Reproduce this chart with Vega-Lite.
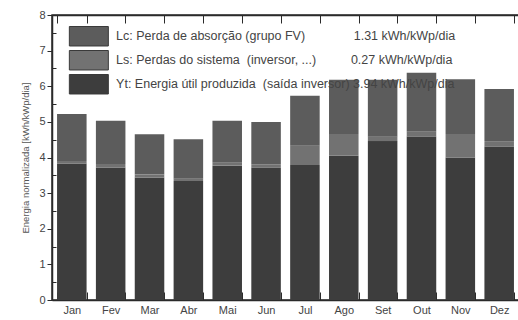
{
  "$schema": "https://vega.github.io/schema/vega-lite/v6.json",
  "width": 467,
  "height": 285,
  "autosize": "none",
  "padding": {"left": 52, "top": 15, "right": 0, "bottom": 20},
  "background": "white",
  "config": {
    "view": {"stroke": "#2a2a2a", "strokeWidth": 1.5},
    "font": "Liberation Sans",
    "axis": {"grid": false, "domainColor": "#2a2a2a", "domainWidth": 1.5, "tickColor": "#2a2a2a", "labelColor": "#444", "titleColor": "#555", "labelFont": "Liberation Sans", "titleFont": "Liberation Sans"}
  },
  "data": {
    "values": [
      {"mes": "Jan", "serie": "Yt", "ordem": 1, "valor": 3.83},
      {"mes": "Jan", "serie": "Ls", "ordem": 2, "valor": 0.07},
      {"mes": "Jan", "serie": "Lc", "ordem": 3, "valor": 1.32},
      {"mes": "Fev", "serie": "Yt", "ordem": 1, "valor": 3.72},
      {"mes": "Fev", "serie": "Ls", "ordem": 2, "valor": 0.10},
      {"mes": "Fev", "serie": "Lc", "ordem": 3, "valor": 1.21},
      {"mes": "Mar", "serie": "Yt", "ordem": 1, "valor": 3.44},
      {"mes": "Mar", "serie": "Ls", "ordem": 2, "valor": 0.08},
      {"mes": "Mar", "serie": "Lc", "ordem": 3, "valor": 1.13},
      {"mes": "Abr", "serie": "Yt", "ordem": 1, "valor": 3.34},
      {"mes": "Abr", "serie": "Ls", "ordem": 2, "valor": 0.08},
      {"mes": "Abr", "serie": "Lc", "ordem": 3, "valor": 1.09},
      {"mes": "Mai", "serie": "Yt", "ordem": 1, "valor": 3.77},
      {"mes": "Mai", "serie": "Ls", "ordem": 2, "valor": 0.08},
      {"mes": "Mai", "serie": "Lc", "ordem": 3, "valor": 1.18},
      {"mes": "Jun", "serie": "Yt", "ordem": 1, "valor": 3.71},
      {"mes": "Jun", "serie": "Ls", "ordem": 2, "valor": 0.10},
      {"mes": "Jun", "serie": "Lc", "ordem": 3, "valor": 1.19},
      {"mes": "Jul", "serie": "Yt", "ordem": 1, "valor": 3.79},
      {"mes": "Jul", "serie": "Ls", "ordem": 2, "valor": 0.54},
      {"mes": "Jul", "serie": "Lc", "ordem": 3, "valor": 1.40},
      {"mes": "Ago", "serie": "Yt", "ordem": 1, "valor": 4.05},
      {"mes": "Ago", "serie": "Ls", "ordem": 2, "valor": 0.61},
      {"mes": "Ago", "serie": "Lc", "ordem": 3, "valor": 1.52},
      {"mes": "Set", "serie": "Yt", "ordem": 1, "valor": 4.46},
      {"mes": "Set", "serie": "Ls", "ordem": 2, "valor": 0.14},
      {"mes": "Set", "serie": "Lc", "ordem": 3, "valor": 1.58},
      {"mes": "Out", "serie": "Yt", "ordem": 1, "valor": 4.58},
      {"mes": "Out", "serie": "Ls", "ordem": 2, "valor": 0.14},
      {"mes": "Out", "serie": "Lc", "ordem": 3, "valor": 1.66},
      {"mes": "Nov", "serie": "Yt", "ordem": 1, "valor": 4.00},
      {"mes": "Nov", "serie": "Ls", "ordem": 2, "valor": 0.66},
      {"mes": "Nov", "serie": "Lc", "ordem": 3, "valor": 1.54},
      {"mes": "Dez", "serie": "Yt", "ordem": 1, "valor": 4.30},
      {"mes": "Dez", "serie": "Ls", "ordem": 2, "valor": 0.16},
      {"mes": "Dez", "serie": "Lc", "ordem": 3, "valor": 1.46}
    ]
  },
  "layer": [
    {
      "mark": {"type": "bar"},
      "encoding": {
        "x": {
          "field": "mes", "type": "nominal",
          "sort": ["Jan", "Fev", "Mar", "Abr", "Mai", "Jun", "Jul", "Ago", "Set", "Out", "Nov", "Dez"],
          "scale": {"paddingInner": 0.24, "paddingOuter": 0.13},
          "axis": {"orient": "bottom", "title": null, "labelAngle": 0, "labelFontSize": 11, "labelPadding": 12, "tickBand": "extent", "tickSize": -8, "tickWidth": 1}
        },
        "y": {
          "field": "valor", "type": "quantitative", "stack": "zero",
          "scale": {"domain": [0, 8], "nice": false},
          "axis": {
            "title": "Energia normalizada [kWh/kWp/dia]", "titleFontSize": 9.5, "titleFontWeight": "normal", "titlePadding": 8, "titleColor": "#555",
            "values": [0, 0.5, 1, 1.5, 2, 2.5, 3, 3.5, 4, 4.5, 5, 5.5, 6, 6.5, 7, 7.5, 8],
            "labelExpr": "datum.value % 1 === 0 ? format(datum.value, 'd') : ''",
            "labelFontSize": 11, "labelPadding": 2,
            "tickSize": {"condition": {"test": "datum.value % 1 === 0", "value": 5}, "value": -4}
          }
        },
        "color": {
          "field": "serie", "type": "nominal",
          "scale": {"domain": ["Lc", "Ls", "Yt"], "range": ["#5c5c5c", "#727272", "#3d3d3d"]},
          "legend": {
            "orient": "none", "legendX": 30.6, "legendY": 15, "title": null,
            "symbolType": "M-4,-2H4V2H-4Z", "symbolSize": 95, "symbolStrokeWidth": 1, "symbolStrokeColor": "#3a3a3a",
            "symbolOpacity": 1,
            "rowPadding": 0, "labelFontSize": 12.5, "labelColor": "#444", "labelOffset": 21, "labelLimit": 0,
            "labelExpr": "datum.label == 'Lc' ? 'Lc: Perda de absorção (grupo FV)\u00a0\u00a0\u00a0\u00a0\u00a0\u00a0\u00a0\u00a0\u00a0\u00a0\u00a0\u00a0\u00a0\u00a01.31 kWh/kWp/dia' : datum.label == 'Ls' ? 'Ls: Perdas do sistema\u00a0\u00a0(inversor, ...)\u00a0\u00a0\u00a0\u00a0\u00a0\u00a0\u00a0\u00a0\u00a0\u00a00.27 kWh/kWp/dia' : 'Yt: Energia útil produzida\u00a0\u00a0(saída inversor)\u00a03.94 kWh/kWp/dia'"
          }
        },
        "order": {"field": "ordem", "type": "quantitative"}
      }
    },
    {
      "mark": {"type": "bar", "opacity": 0},
      "encoding": {
        "x": {
          "field": "mes", "type": "nominal",
          "sort": ["Jan", "Fev", "Mar", "Abr", "Mai", "Jun", "Jul", "Ago", "Set", "Out", "Nov", "Dez"],
          "axis": {"orient": "top", "title": null, "labels": false, "tickBand": "extent", "tickSize": -8, "tickWidth": 1}
        }
      }
    }
  ],
  "resolve": {"axis": {"x": "independent"}}
}
